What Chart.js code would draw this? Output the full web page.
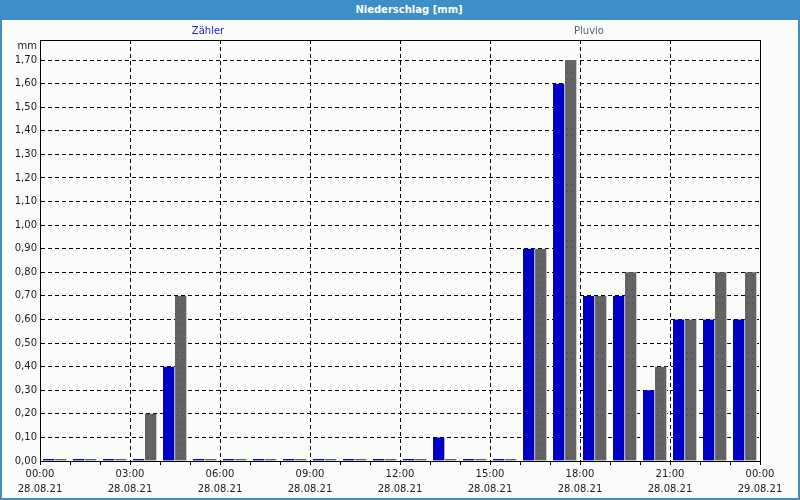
<!DOCTYPE html>
<html>
<head>
<meta charset="utf-8">
<script src="https://cdn.jsdelivr.net/npm/chart.js@4/dist/chart.umd.min.js"></script>
<style>
  html, body { margin: 0; padding: 0; background: #fbfdfb; }
  #wrap { position: relative; width: 800px; height: 500px; overflow: hidden; background: #fbfdfb; }
  #titlebar { position: absolute; left: 0; top: 0; width: 800px; height: 20px; background: #3c8fc7;
    color: #fff; font: bold 10px "DejaVu Sans", sans-serif; line-height: 20px; text-align: center;
    box-sizing: border-box; padding-left: 18px; }
  #chartbox { position: absolute; left: 0; top: 20px; width: 800px; height: 480px; }
  .edge { position: absolute; background: #3c8fc7; }
</style>
</head>
<body>
<div id="wrap">
  <div id="titlebar">Niederschlag [mm]</div>
  <div id="chartbox"><canvas id="rain" width="800" height="480"></canvas></div>
  <div class="edge" style="left:0;top:20px;width:2px;height:480px"></div>
  <div class="edge" style="right:0;top:20px;width:2px;height:480px"></div>
  <div class="edge" style="left:0;bottom:0;width:800px;height:2px"></div>
</div>
<script>
// hourly values, 28.08.21 00:00 .. 24:00
const hours = [0, 1, 2, 3, 4, 5, 6, 7, 8, 9, 10, 11, 12, 13, 14, 15, 16, 17, 18, 19, 20, 21, 22, 23];
const zaehler = [0, 0, 0, 0, 0.4, 0, 0, 0, 0, 0, 0, 0, 0, 0.1, 0, 0, 0.9, 1.6, 0.7, 0.7, 0.3, 0.6, 0.6, 0.6];
const pluvio = [0, 0, 0, 0.2, 0.7, 0, 0, 0, 0, 0, 0, 0, 0, 0, 0, 0, 0.9, 1.7, 0.7, 0.8, 0.4, 0.6, 0.8, 0.8];
const timeLabels = ['00:00', '03:00', '06:00', '09:00', '12:00', '15:00', '18:00', '21:00', '00:00'];
const dateLabels = ['28.08.21', '28.08.21', '28.08.21', '28.08.21', '28.08.21', '28.08.21', '28.08.21', '28.08.21', '29.08.21'];
const seriesNames = ['Zähler', 'Pluvio'];

const bg = '#fbfdfb';

function dotPattern() {
  const c = document.createElement('canvas');
  c.width = 5; c.height = 7;
  const g = c.getContext('2d');
  g.fillStyle = '#646464';
  g.fillRect(0, 0, 5, 7);
  g.fillStyle = '#40407a';
  g.fillRect(2, 3, 1, 1);
  return g.createPattern(c, 'repeat');
}

// frame, legend texts and unit label
const extras = {
  id: 'extras',
  afterDraw(chart) {
    const ctx = chart.ctx;
    const a = chart.chartArea;
    ctx.save();
    ctx.strokeStyle = '#000';
    ctx.lineWidth = 1;
    ctx.strokeRect(Math.round(a.left) + 0.5, Math.round(a.top) + 0.5,
      Math.round(a.right - a.left), Math.round(a.bottom - a.top));
    ctx.font = '10px "DejaVu Sans"';
    ctx.textBaseline = 'middle';
    ctx.textAlign = 'center';
    ctx.fillStyle = '#2020e0';
    ctx.fillText(seriesNames[0], 208, 11);
    ctx.fillStyle = '#5a5a86';
    ctx.fillText(seriesNames[1], 589, 11);
    ctx.fillStyle = '#1a1a1a';
    ctx.textAlign = 'right';
    ctx.fillText('mm', 37, 26);
    ctx.restore();
  }
};

Chart.defaults.font.family = '"DejaVu Sans", sans-serif';
Chart.defaults.font.size = 10;
Chart.defaults.color = '#1a1a1a';

const ctx = document.getElementById('rain').getContext('2d');
new Chart(ctx, {
  type: 'bar',
  data: {
    datasets: [{
      label: seriesNames[0],
      data: hours.map((h, i) => ({ x: h + 0.5, y: zaehler[i] })),
      backgroundColor: '#0000c4',
      borderColor: bg,
      borderWidth: { left: 0, right: 1, top: 0, bottom: 0 },
      barThickness: 12,
      minBarLength: 2
    }, {
      label: seriesNames[1],
      data: hours.map((h, i) => ({ x: h + 0.5, y: pluvio[i] })),
      backgroundColor: dotPattern(),
      borderColor: bg,
      borderWidth: { left: 0, right: 1, top: 0, bottom: 0 },
      barThickness: 12,
      minBarLength: 2
    }]
  },
  options: {
    responsive: false,
    animation: false,
    layout: { padding: { left: 0, right: 40, top: 20, bottom: 0 } },
    plugins: { legend: { display: false }, tooltip: { enabled: false } },
    scales: {
      x: {
        type: 'linear',
        min: 0,
        max: 24,
        offset: false,
        afterFit: s => { s.height = 39; },
        ticks: {
          stepSize: 1,
          autoSkip: false,
          maxRotation: 0,
          padding: 2,
          font: { lineHeight: 1.5 },
          callback: v => (v % 3 === 0 ? [timeLabels[v / 3], dateLabels[v / 3]] : '')
        },
        grid: {
          offset: false,
          color: c => (c.tick && c.tick.value % 3 === 0 && c.tick.value > 0 && c.tick.value < 24 ? '#000' : 'rgba(0,0,0,0)'),
          tickColor: '#000',
          tickLength: 4,
          lineWidth: 1
        },
        border: { color: '#000', width: 1, dash: [4, 3] }
      },
      y: {
        min: 0,
        max: 1.785,
        afterFit: s => { s.width = 40; },
        ticks: {
          stepSize: 0.1,
          includeBounds: false,
          padding: 3,
          callback: v => v.toFixed(2).replace('.', ',')
        },
        grid: {
          color: c => (c.tick && c.tick.value > 0.001 ? '#000' : 'rgba(0,0,0,0)'),
          drawTicks: false,
          lineWidth: 1
        },
        border: { color: '#000', width: 1, dash: [4, 3] }
      }
    }
  },
  plugins: [extras]
});
</script>
</body>
</html>
